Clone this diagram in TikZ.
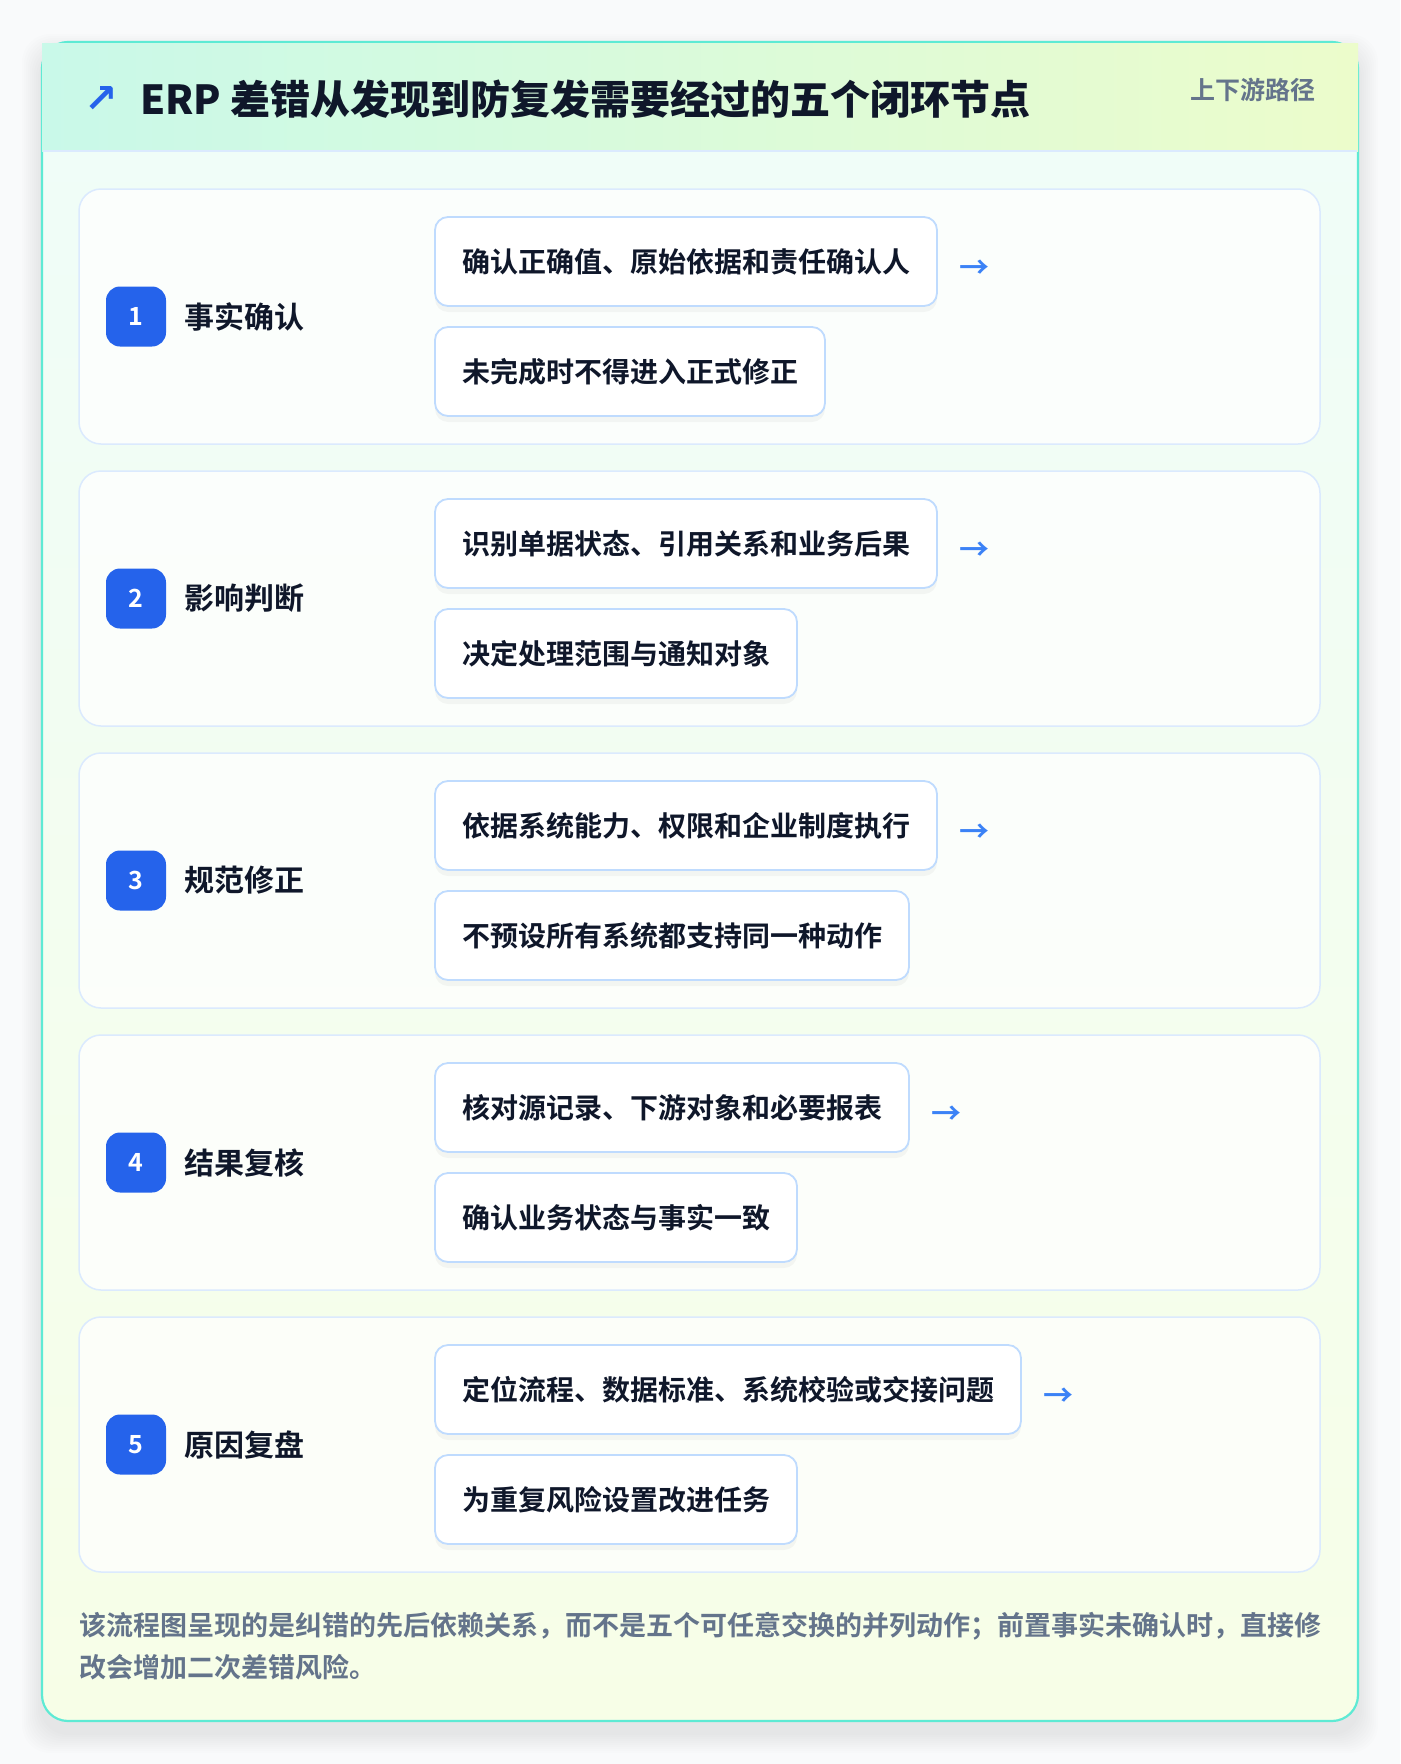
\documentclass[tikz,border=0pt]{standalone}
\usepackage{fontspec}
\setmainfont{Noto Sans CJK SC}[BoldFont=* Bold]
\newfontfamily\titlefont{Noto Sans CJK SC Black}
\newfontfamily\symfont{DejaVu Sans}[BoldFont=* Bold]
\usepackage{xcolor}
\usepackage{tikz}
\usetikzlibrary{calc,positioning}
\definecolor{pagebg}{HTML}{F9FAFB}
\definecolor{rim}{HTML}{5EEAD4}
\definecolor{mint}{HTML}{C9F9E9}
\definecolor{lime}{HTML}{ECFCCB}
\definecolor{bodytop}{HTML}{EFFDF9}
\definecolor{bodybot}{HTML}{F7FEE7}
\definecolor{rowline}{HTML}{DBEAFE}
\definecolor{boxline}{HTML}{BFDBFE}
\definecolor{ink}{HTML}{0F172A}
\definecolor{slate}{HTML}{64748B}
\definecolor{accent}{HTML}{2563EB}
\definecolor{arrowblue}{HTML}{3B82F6}
\tikzset{
  card/.style={draw=rim, line width=2.2pt, rounded corners=26pt, top color=bodytop, bottom color=bodybot},
  rowcard/.style={draw=rowline, line width=1.5pt, fill=white, fill opacity=0.75, rounded corners=22pt,
    minimum width=1241pt, minimum height=255pt, inner sep=0pt, outer sep=0pt, anchor=north west},
  badge/.style={fill=accent, rounded corners=14pt, minimum size=60pt, inner sep=0pt, outer sep=0pt, text=white,
    font=\bfseries\fontsize{25}{25}\selectfont},
  steplab/.style={text=ink, inner sep=0pt, font=\bfseries\fontsize{30}{30}\selectfont},
  stepbox/.style={draw=boxline, line width=1.8pt, fill=white, rounded corners=13pt, inner xsep=27pt,
    inner ysep=0pt, outer sep=0pt, minimum height=89pt, text=ink, font=\bfseries\fontsize{28}{28}\selectfont,
    anchor=north west, preaction={fill=black, fill opacity=0.035, draw=none, transform canvas={yshift=-6pt}}},
  arrowlab/.style={text=arrowblue, inner sep=0pt, font=\bfseries\fontsize{30}{30}\selectfont},
}

\begin{document}
\begin{tikzpicture}[x=1pt, y=-1pt]
  \useasboundingbox (0,0) rectangle (1400,1764);
  \fill[pagebg] (0,0) rectangle (1400,1764);
  % soft shadow under the card
  \foreach \s in {1,...,10}
    \fill[black, opacity=0.008, rounded corners=28pt] (42-2*\s,54-2*\s) rectangle (1358+2*\s,1733+2*\s);
  \draw[card] (42,42) rectangle (1358,1721);
  \fill[left color=mint, right color=lime] (42,43.5) rectangle (1358,151);
  \draw[rowline, line width=1.5pt] (43,151) -- (1357,151);
  \node[text=accent, inner sep=0pt, font=\symfont\bfseries\fontsize{40}{40}\selectfont] (icon) at (101,100) {↗};
  \node[anchor=west, inner sep=0pt, text=ink, font=\titlefont\fontsize{40}{40}\selectfont] (title) at (140,99)
    {ERP 差错从发现到防复发需要经过的五个闭环节点};
  \node[anchor=east, inner sep=0pt, text=slate, font=\bfseries\fontsize{25}{25}\selectfont] (tag) at (1316,90) {上下游路径};

  % row 1
  \node[rowcard] (r1) at (79,189) {};
  \node[badge] (n1) at ($(r1.west)+(57,0)$) {1};
  \node[steplab, right=18pt of n1] (l1) {事实确认};
  \node[stepbox] (s1a) at ($(r1.north west)+(356,28)$) {确认正确值、原始依据和责任确认人};
  \node[stepbox, below=21pt of s1a.south west, anchor=north west] (s1b) {未完成时不得进入正式修正};
  \node[arrowlab, right=22pt of s1a.east, yshift=-8pt] (a1) {→};

  % row 2
  \node[rowcard, below=27pt of r1.south west, anchor=north west] (r2) {};
  \node[badge] (n2) at ($(r2.west)+(57,0)$) {2};
  \node[steplab, right=18pt of n2] (l2) {影响判断};
  \node[stepbox] (s2a) at ($(r2.north west)+(356,28)$) {识别单据状态、引用关系和业务后果};
  \node[stepbox, below=21pt of s2a.south west, anchor=north west] (s2b) {决定处理范围与通知对象};
  \node[arrowlab, right=22pt of s2a.east, yshift=-8pt] (a2) {→};

  % row 3
  \node[rowcard, below=27pt of r2.south west, anchor=north west] (r3) {};
  \node[badge] (n3) at ($(r3.west)+(57,0)$) {3};
  \node[steplab, right=18pt of n3] (l3) {规范修正};
  \node[stepbox] (s3a) at ($(r3.north west)+(356,28)$) {依据系统能力、权限和企业制度执行};
  \node[stepbox, below=21pt of s3a.south west, anchor=north west] (s3b) {不预设所有系统都支持同一种动作};
  \node[arrowlab, right=22pt of s3a.east, yshift=-8pt] (a3) {→};

  % row 4
  \node[rowcard, below=27pt of r3.south west, anchor=north west] (r4) {};
  \node[badge] (n4) at ($(r4.west)+(57,0)$) {4};
  \node[steplab, right=18pt of n4] (l4) {结果复核};
  \node[stepbox] (s4a) at ($(r4.north west)+(356,28)$) {核对源记录、下游对象和必要报表};
  \node[stepbox, below=21pt of s4a.south west, anchor=north west] (s4b) {确认业务状态与事实一致};
  \node[arrowlab, right=22pt of s4a.east, yshift=-8pt] (a4) {→};

  % row 5
  \node[rowcard, below=27pt of r4.south west, anchor=north west] (r5) {};
  \node[badge] (n5) at ($(r5.west)+(57,0)$) {5};
  \node[steplab, right=18pt of n5] (l5) {原因复盘};
  \node[stepbox] (s5a) at ($(r5.north west)+(356,28)$) {定位流程、数据标准、系统校验或交接问题};
  \node[stepbox, below=21pt of s5a.south west, anchor=north west] (s5b) {为重复风险设置改进任务};
  \node[arrowlab, right=22pt of s5a.east, yshift=-8pt] (a5) {→};

  \node[anchor=west, align=left, inner sep=0pt, text=slate, font=\bfseries\fontsize{27}{41.6}\selectfont] (note) at (79,1646)
    {该流程图呈现的是纠错的先后依赖关系，而不是五个可任意交换的并列动作；前置事实未确认时，直接修\\改会增加二次差错风险。};
\end{tikzpicture}
\end{document}
